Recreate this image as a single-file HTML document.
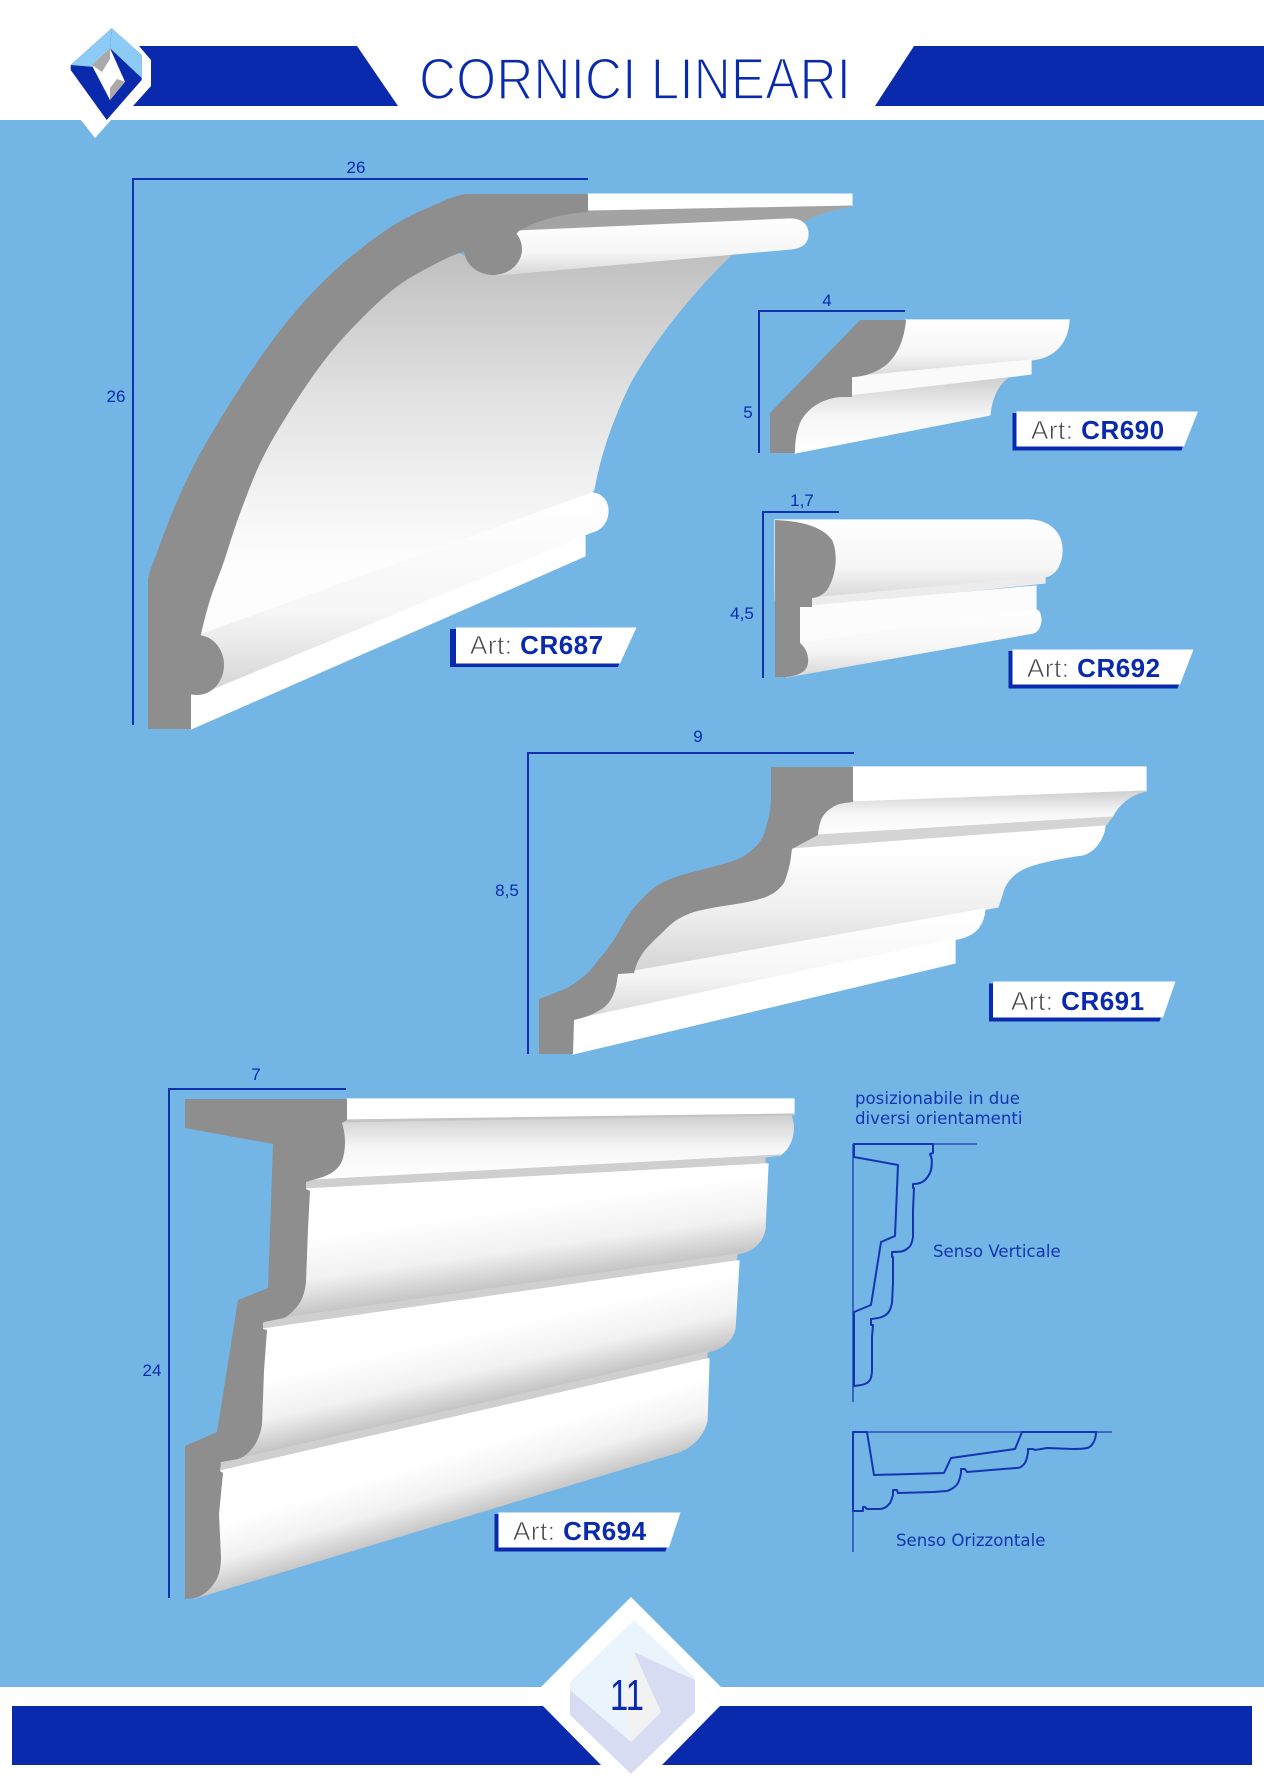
<!DOCTYPE html>
<html><head><meta charset="utf-8"><style>
html,body{margin:0;padding:0;background:#fff;}
svg{display:block;}
.dim{font-family:"Liberation Sans",sans-serif;font-size:17px;fill:#0a2aae;text-anchor:middle;}
.lab{font-family:"Liberation Sans",sans-serif;font-size:26px;letter-spacing:0.5px;}
.art{fill:#444444;stroke:#ffffff;stroke-width:0.7px;}
.note{font-family:"DejaVu Sans",sans-serif;font-size:16.6px;fill:#1434b0;}
</style></head><body>
<svg width="1264" height="1778" viewBox="0 0 1264 1778" xmlns="http://www.w3.org/2000/svg">
<defs>
<linearGradient id="cove687" x1="0" y1="255" x2="0" y2="560" gradientUnits="userSpaceOnUse"><stop offset="0" stop-color="#c0c0c0"/><stop offset="0.5" stop-color="#e4e4e4"/><stop offset="1" stop-color="#fdfdfd"/></linearGradient>
<linearGradient id="bead" x1="0" y1="0" x2="0" y2="1"><stop offset="0" stop-color="#ffffff"/><stop offset="0.6" stop-color="#f6f6f6"/><stop offset="1" stop-color="#d6d6d6"/></linearGradient>
<linearGradient id="shadeTop" x1="0" y1="0" x2="0" y2="1"><stop offset="0" stop-color="#cfcfcf"/><stop offset="0.5" stop-color="#f6f6f6"/><stop offset="1" stop-color="#ffffff"/></linearGradient>
<linearGradient id="cove691" x1="0" y1="850" x2="0" y2="975" gradientUnits="userSpaceOnUse"><stop offset="0" stop-color="#ffffff"/><stop offset="0.5" stop-color="#eeeeee"/><stop offset="1" stop-color="#d3d3d3"/></linearGradient>
<linearGradient id="p1" x1="0" y1="1280" x2="0" y2="1358" gradientUnits="userSpaceOnUse" gradientTransform="skewY(-8)"><stop offset="0" stop-color="#ffffff"/><stop offset="0.55" stop-color="#f1f1f1"/><stop offset="1" stop-color="#c4c4c4"/></linearGradient>
<linearGradient id="p2" x1="0" y1="1440" x2="0" y2="1513" gradientUnits="userSpaceOnUse" gradientTransform="skewY(-12.85)"><stop offset="0" stop-color="#ffffff"/><stop offset="0.55" stop-color="#f1f1f1"/><stop offset="1" stop-color="#c4c4c4"/></linearGradient>
<linearGradient id="p3" x1="0" y1="1590" x2="0" y2="1657" gradientUnits="userSpaceOnUse" gradientTransform="skewY(-16.8)"><stop offset="0" stop-color="#ffffff"/><stop offset="0.55" stop-color="#f1f1f1"/><stop offset="1" stop-color="#c8c8c8"/></linearGradient>
</defs>

<!-- backgrounds -->
<rect x="0" y="0" width="1264" height="1778" fill="#ffffff"/>
<rect x="0" y="120" width="1264" height="1567" fill="#73b6e5"/>

<!-- header -->
<polygon points="139,46 357,46 398,106 133,106 151,86 151,60" fill="#0a2aae"/>
<polygon points="914,46 1264,46 1264,106 875,106" fill="#0a2aae"/>
<text x="419" y="99" font-family="Liberation Sans, sans-serif" font-size="58" fill="#0a2aae" stroke="#ffffff" stroke-width="1.8" textLength="432" lengthAdjust="spacingAndGlyphs">CORNICI LINEARI</text>

<!-- logo -->
<polygon points="80,119 112,119 95,138" fill="#ffffff"/>
<polygon points="111.7,28.3 141.7,55 141.7,80 106.7,120 70.7,70 70.7,65" fill="#0a2aae"/>
<polygon points="111.7,28.3 110,48.3 91.7,66.7 70.7,65" fill="#8ccbf6"/>
<polygon points="111.7,28.3 141.7,55 141.7,78 110,48.3" fill="#8ccbf6"/>
<polygon points="110,48.3 91.7,65 110,100 125,81.7" fill="#ffffff"/>
<polygon points="110,48.3 91.7,65 102,72 110,59" fill="#aaaaaa"/>
<polygon points="125,81.7 110,100 110,88 117,79" fill="#aaaaaa"/>

<!-- footer -->
<polygon points="631,1597 536,1692 631,1787 726,1692" fill="#ffffff"/>
<polygon points="12,1706 543,1706 601,1765 12,1765" fill="#0a2aae"/>
<polygon points="720,1706 1252,1706 1252,1765 662,1765" fill="#0a2aae"/>
<polygon points="634,1620 695,1678 695,1712 631,1774 570,1715 570,1682" fill="#eaf4fc"/>
<polygon points="570,1690 570,1715 631,1774 695,1712 695,1680 634,1652 661,1712 631,1742" fill="#d8dcf2"/>
<polygon points="634,1652 661,1712 631,1742 622,1700" fill="#f2f2f2"/>
<text x="610" y="1710" font-family="Liberation Sans, sans-serif" font-size="44" fill="#0a2aae" textLength="34" lengthAdjust="spacingAndGlyphs">11</text>

<!-- ============ CR687 ============ -->
<polygon points="588,194 852,194 852,206 588,212" fill="#ffffff" stroke="#ffffff" stroke-width="1"/>
<path d="M470,212 L588,211 L852,206 C832,210 815,214 806,221 L790,219 L519,231 L480,240 Z" fill="#a3a3a3" stroke="#a3a3a3" stroke-width="1"/>
<path d="M453,250 L497,275 L731,255 C700,285 660,330 630,383 C612,420 600,455 594,489 L592,493 L200,635 L191,635 L200,600 L213,560 L230,510 L253,453 L287,396 L320,349 L353,312 L387,282 L420,262 Z" fill="url(#cove687)" stroke="url(#cove687)" stroke-width="1.2"/>
<path d="M519,231 L790,219 C803,219 808,226 808,234 C808,243 802,248 790,249 L497,275 Z" fill="url(#bead)" stroke="url(#bead)" stroke-width="1.2"/>
<polygon points="191,690 585,534 585,556 191,729" fill="#ffffff" stroke="#ffffff" stroke-width="1.2"/>
<path d="M200,635 L592,493 C603,494 608,502 608,511 C608,522 601,530 592,532 L224,684 L210,690 Z" fill="url(#bead)" stroke="url(#bead)" stroke-width="1.2"/>
<path d="M148,729 L148,580 C149.5,570.6 152.5,565 156.7,553.3 C160.9,541.6 166.6,525.6 173.3,510 C180,494.4 187.3,477.8 196.7,460 C206.1,442.2 218.9,421.1 230,403.3 C241.1,385.5 252.2,368.9 263.3,353.3 C274.4,337.7 285.6,323 296.7,310 C307.8,297 318.9,285.6 330,275 C341.1,264.5 352.2,255.3 363.3,246.7 C374.4,238.1 385.6,230 396.7,223.3 C407.8,216.6 418.6,211.6 430,206.7 C441.4,201.8 453.3,196.1 465,194 L588,194 L588,212 C560,214 535,221 519,231 L493,249 L463,252 C452.5,254.8 441.1,260.9 430,266.7 C418.9,272.5 407.8,278.4 396.7,286.7 C385.6,295 374.4,305.6 363.3,316.7 C352.2,327.8 341.1,339.4 330,353.3 C318.9,367.2 307.8,382.8 296.7,400 C285.6,417.2 272.8,437.8 263.3,456.7 C253.8,475.6 246.7,495.5 240,513.3 C233.3,531.1 228.3,548.9 223.3,563.3 C218.3,577.7 213.7,588 210,600 C206.3,612 202,629 201,635 L197,665 L191,695 L191,729 Z" fill="#8e8e8e"/>
<ellipse cx="493" cy="249" rx="29" ry="26" fill="#8e8e8e"/>
<ellipse cx="197" cy="665" rx="27" ry="30" fill="#8e8e8e"/>
<path d="M133,725 V179 H588" fill="none" stroke="#1030b0" stroke-width="2"/>
<text class="dim" x="356" y="173">26</text>
<text class="dim" x="116" y="402">26</text>
<polygon points="450,629 632,629 618,667 450,667" fill="#0a2aae"/>
<polygon points="456,627.5 636.5,627.5 620,663.5 456,663.5" fill="#ffffff"/>
<text class="lab" x="470" y="654"><tspan class="art">Art: </tspan><tspan fill="#0a2aae" font-weight="bold">CR687</tspan></text>

<!-- ============ CR690 ============ -->
<path d="M906,320 L1069,320 C1068,342 1055,358 1031,360 L851,377 L851,340 Z" fill="url(#bead)" stroke="url(#bead)" stroke-width="1.2"/>
<polygon points="851,377 1031,360 1031,374 851,397" fill="#fafafa" stroke="#fafafa" stroke-width="1.2"/>
<path d="M840,397 L1007,378 C997,386 991,400 990,415 L795,453 L795,400 Z" fill="url(#shadeTop)" stroke="url(#shadeTop)" stroke-width="1.2"/>
<path d="M860,320 L906,320 C904,342 896,360 880,369 C870,375 860,377 852,377 L852,397 L840,397 C820,399 806,410 800,423 C796,433 795,443 795,453 L770,453 L770,413 Z" fill="#8e8e8e"/>
<path d="M759,453 V311 H905" fill="none" stroke="#1030b0" stroke-width="2"/>
<text class="dim" x="827" y="306">4</text>
<text class="dim" x="748" y="418">5</text>
<polygon points="1012.5,413 1194,413 1181.5,450.5 1012.5,450.5" fill="#0a2aae"/>
<polygon points="1016.5,411.5 1198,411.5 1184,446.5 1016.5,446.5" fill="#ffffff"/>
<text class="lab" x="1031" y="439"><tspan class="art">Art: </tspan><tspan fill="#0a2aae" font-weight="bold">CR690</tspan></text>

<!-- ============ CR692 ============ -->
<path d="M775,520 L1030,520 C1052,521 1062,535 1062,550 C1062,565 1055,575 1045,577 L812,598 L775,600 Z" fill="url(#bead)" stroke="url(#bead)" stroke-width="1.2"/>
<polygon points="812,598 1045,577 1045,583 812,607" fill="#ececec" stroke="#ececec" stroke-width="1.2"/>
<polygon points="800,607 1036,586 1036,610 800,643" fill="#fcfcfc" stroke="#fcfcfc" stroke-width="1.2"/>
<path d="M800,643 L1036,610 C1043,611 1043,630 1033,633 L787,677 Z" fill="url(#bead)" stroke="url(#bead)" stroke-width="1.2"/>
<path d="M775,520 C800,521 822,526 832,540 C838,552 837,575 827,590 C822,596 816,598 812,598 L812,607 L800,607 L800,643 C806,648 809,656 808,663 C807,670 802,675 787,677 L775,677 Z" fill="#8e8e8e"/>
<path d="M763,678 V512 H839" fill="none" stroke="#1030b0" stroke-width="2"/>
<text class="dim" x="802" y="506">1,7</text>
<text class="dim" x="742" y="619">4,5</text>
<polygon points="1008.5,651 1190,651 1177.5,688.5 1008.5,688.5" fill="#0a2aae"/>
<polygon points="1012.5,649.5 1193.5,649.5 1180,684.5 1012.5,684.5" fill="#ffffff"/>
<text class="lab" x="1027" y="677"><tspan class="art">Art: </tspan><tspan fill="#0a2aae" font-weight="bold">CR692</tspan></text>

<!-- ============ CR691 ============ -->
<polygon points="853,767 1146,767 1146,791 853,802" fill="#ffffff" stroke="#ffffff" stroke-width="1.2"/>
<path d="M853,802 L1146,791 C1132,794 1120,802 1112,817 L819,835 L815,825 L825,808 L845,800 Z" fill="url(#shadeTop)" stroke="url(#shadeTop)" stroke-width="1.2"/>
<polygon points="819,835 1112,817 1105,826 792,849" fill="#d4d4d4" stroke="#d4d4d4" stroke-width="1.2"/>
<path d="M792,849 L1105,826 C1104,838 1095,852 1082,855 C1060,858 1042,862 1030,866 C1012,872 1004,885 1002,895 L998,907 L634,973 L630,960 L640,948 L664,924 L692,906 L730,899 L764,891 L780,879 L786,862 L788,850 Z" fill="url(#cove691)" stroke="url(#cove691)" stroke-width="1.2"/>
<path d="M618,974 L985,909 C984,920 980,935 957,939 L574,1020 Z" fill="url(#bead)" stroke="url(#bead)" stroke-width="1.2"/>
<polygon points="573,1020 955,939 955,963 573,1054" fill="#ffffff" stroke="#ffffff" stroke-width="1.2"/>
<path d="M539,1054 L539,999 C555,993 565,989 569,987 C580,980 590,972 596,963 C605,952 612,944 618,933 C627,916 633,908 641,900 C650,890 658,884 668,880 C682,874 697,871 712,867 C727,863 740,860 748,853 C758,846 764,838 766,827 C770,815 771,805 771,797 L771,767 L853,767 L853,802 C843,803 837,804 833,807 C826,811 822,817 821,820 C819,826 818,832 818,835 L792,849 C791,855 791,859 790,863 C788,872 786,878 784,883 C779,890 773,894 766,897 C755,901 743,903 730,905 C717,907 705,909 694,912 C682,916 674,921 668,927 C659,936 651,943 645,950 C639,958 636,965 634,973 L618,974 C617,982 616,988 614,993 C611,1001 606,1007 600,1010 C592,1015 583,1018 574,1020 L573,1054 Z" fill="#8e8e8e"/>
<path d="M528,1054 V753 H854" fill="none" stroke="#1030b0" stroke-width="2"/>
<text class="dim" x="698" y="742">9</text>
<text class="dim" x="507" y="896">8,5</text>
<polygon points="989,983.5 1172,983.5 1159.5,1021.5 989,1021.5" fill="#0a2aae"/>
<polygon points="993,981.5 1175.5,981.5 1163,1017.5 993,1017.5" fill="#ffffff"/>
<text class="lab" x="1011" y="1010"><tspan class="art">Art: </tspan><tspan fill="#0a2aae" font-weight="bold">CR691</tspan></text>

<!-- ============ CR694 ============ -->
<polygon points="347,1099 794,1099 794,1114 347,1120" fill="#ffffff" stroke="#ffffff" stroke-width="1.2"/>
<polygon points="347,1120 794,1114 791,1116 342,1123" fill="#c4c4c4" stroke="#c4c4c4" stroke-width="1.2"/>
<path d="M342,1123 L791,1116 C795,1125 795,1145 780,1155 L312,1180 Z" fill="url(#shadeTop)" stroke="url(#shadeTop)" stroke-width="1.2"/>
<polygon points="306,1180.5 780,1155 765,1157 765,1164 306,1189" fill="#cfcfcf" stroke="#cfcfcf" stroke-width="1.2"/>
<path d="M306,1189 L765,1164 L768,1164 L765,1229 C762,1245 750,1252 737,1254 L284,1318 Z" fill="url(#p1)" stroke="url(#p1)" stroke-width="1.2"/>
<polygon points="263,1321 737,1254 736,1261 263,1329" fill="#cfcfcf" stroke="#cfcfcf" stroke-width="1.2"/>
<path d="M263,1329 L736,1261 L739,1261 L735,1329 C732,1342 720,1350 707,1352 L238,1459 Z" fill="url(#p2)" stroke="url(#p2)" stroke-width="1.2"/>
<polygon points="220,1463 707,1352 707,1359 220,1471" fill="#cfcfcf" stroke="#cfcfcf" stroke-width="1.2"/>
<path d="M220,1471 L707,1359 L709,1359 L707,1421 C703,1437 690,1450 672,1454 L195,1598 Z" fill="url(#p3)" stroke="url(#p3)" stroke-width="1.2"/>
<path d="M185,1099 L347,1099 L347,1120 L342,1123 C346,1135 346,1150 342,1161 C338,1170 330,1176 312,1180 L306,1182 L306,1189 L310,1191 L308,1229 L306,1282 C305,1292 302,1300 299,1304 C293,1312 288,1316 284,1318 L264,1322 L263,1323 L263,1329 L267,1330 L264,1371 L262,1425 C260,1435 257,1442 254,1446 C249,1453 244,1457 238,1459 L221,1462 L220,1471 L223,1473 L219,1514 L221,1557 C221,1570 218,1578 215,1582 C210,1590 203,1596 195,1598 L185,1599 L185,1446 L217,1432 L238,1300 L268,1288 L273,1144 L185,1128 Z" fill="#8e8e8e"/>
<path d="M169,1598 V1089 H346" fill="none" stroke="#1030b0" stroke-width="2"/>
<text class="dim" x="256" y="1080">7</text>
<text class="dim" x="152" y="1376">24</text>
<polygon points="494.5,1514 677,1514 665.5,1551.5 494.5,1551.5" fill="#0a2aae"/>
<polygon points="498.5,1512.5 680.5,1512.5 669,1547.5 498.5,1547.5" fill="#ffffff"/>
<text class="lab" x="513" y="1540"><tspan class="art">Art: </tspan><tspan fill="#0a2aae" font-weight="bold">CR694</tspan></text>

<!-- ============ profiles ============ -->
<text class="note" x="855" y="1104">posizionabile in due</text>
<text class="note" x="855" y="1124">diversi orientamenti</text>
<path d="M853,1144 H977 M853,1144 V1402" fill="none" stroke="#1a3ab0" stroke-width="1.3"/>
<path d="M854,1144 L933,1144 L933,1153 L930,1154 C932,1158 932,1161 931.7,1163 C932,1170 930,1175 925,1180 C922,1183 918,1184 913,1184 L913,1188 L914,1188 L913,1210 L913,1237 C912,1243 910,1247 908,1248 C905,1251 902,1252 892,1252 L892,1257 L893,1257 L893,1283 L892,1303 C891,1308 889,1312 888,1313 C885,1316 882,1318 871,1319 L871,1325 L873,1325 L872,1337 L872,1357 L872,1370 C872,1375 871,1378 870,1380 C868,1383 865,1385 854,1386 L854,1312 L871,1305 L881,1242 L895,1236 L898,1165 L854,1157 Z" fill="none" stroke="#1434b0" stroke-width="2" stroke-linejoin="round"/>
<text class="note" x="933" y="1257">Senso Verticale</text>
<path d="M853,1432 H1112 M853,1432 V1552" fill="none" stroke="#1a3ab0" stroke-width="1.3"/>
<path d="M853,1432 L867,1432 L874,1475 L944,1473 L951,1458 L1015,1449 L1022,1432 L1096,1432 C1096,1440 1092,1447 1087,1448 C1083,1449 1078,1449 1073,1449 L1047,1448 L1035,1450 L1033,1449 L1028,1449 L1028,1453 C1027,1458 1026,1461 1025,1463 C1022,1467 1019,1468 1017,1468 L1003,1469 L967,1472 L965,1469 L961,1469 L961,1473 C960,1478 959,1481 958,1483 C955,1488 950,1490 947,1491 L933,1492 L898,1493 L897,1490 L893,1490 L893,1495 C892,1499 891,1501 890,1503 C887,1507 884,1509 880,1509 L867,1509 L865,1507 L863,1507 L863,1511 L853,1511 Z" fill="none" stroke="#1434b0" stroke-width="2" stroke-linejoin="round"/>
<text class="note" x="896" y="1546">Senso Orizzontale</text>
</svg>
</body></html>
